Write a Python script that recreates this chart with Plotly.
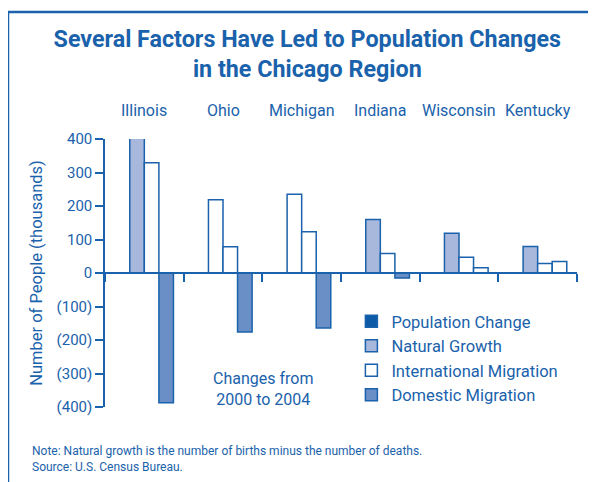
import plotly.graph_objects as go

states = ["Illinois", "Ohio", "Michigan", "Indiana", "Wisconsin", "Kentucky"]
# the source draws no Population Change bars, the slot stays empty
population_change = [None, None, None, None, None, None]
natural_growth = [405, 219, 235, 160, 119, 79]
international_migration = [329, 78, 123, 58, 47, 28]
domestic_migration = [-387, -176, -164, -15, 16, 34]

y_ticks = [-400, -300, -200, -100, 0, 100, 200, 300, 400]
y_ticktext = ["(400)", "(300)", "(200)", "(100)", "0", "100", "200", "300", "400"]

blue = "#1a62ab"
dark = "#0d5aa7"
light = "#a8b8dc"
mid = "#6a8ec6"
font = "Roboto, sans-serif"

ng_colors = [light, "white", "white", light, light, light]
dm_colors = [mid, mid, mid, mid, "white", "white"]

fig = go.Figure()
fig.add_trace(go.Bar(x=states, y=population_change, name="Population Change",
                     marker=dict(color=dark, line=dict(color=blue, width=1.5))))
fig.add_trace(go.Bar(x=states, y=natural_growth, name="Natural Growth",
                     marker=dict(color=ng_colors, line=dict(color=blue, width=1.5))))
fig.add_trace(go.Bar(x=states, y=international_migration, name="International Migration",
                     marker=dict(color="white", line=dict(color=blue, width=1.5))))
fig.add_trace(go.Bar(x=states, y=domestic_migration, name="Domestic Migration",
                     marker=dict(color=dm_colors, line=dict(color=blue, width=1.5))))
fig.update_traces(cliponaxis=False)

# page body has an 8px margin, so the figure is 8px smaller than the window
fig.update_layout(
    width=588, height=474,
    margin=dict(l=97, r=19, t=131, b=75),
    plot_bgcolor="white", paper_bgcolor="white",
    barmode="group", bargap=0.26, bargroupgap=0,
    font=dict(family=font, color=blue, size=16),
    title=dict(text="<b>Several Factors Have Led to Population Changes<br>in the Chicago Region</b>",
               x=0.509, xanchor="center", y=0.918, yanchor="top",
               font=dict(size=23.3, color=blue, family=font)),
    # category axis drawn along the zero line, ticks between the states
    xaxis=dict(type="category", anchor="free", position=0.5, automargin=False,
               showline=True, linecolor=blue, linewidth=1.5, showgrid=False,
               tickson="boundaries", ticks="outside", ticklen=8, tickwidth=1.5,
               tickcolor=blue, showticklabels=False),
    yaxis=dict(range=[-400, 400], tickvals=y_ticks, ticktext=y_ticktext, automargin=False,
               showline=True, linecolor=blue, linewidth=1.5, showgrid=False, zeroline=False,
               ticks="outside", ticklen=8, tickwidth=1.5, tickcolor=blue,
               tickfont=dict(size=15, color=blue),
               title=dict(text="Number of People (thousands)", standoff=10,
                          font=dict(size=16.5, color=blue))),
    legend=dict(x=0.522, y=0.384, xanchor="left", yanchor="top",
                font=dict(size=16.5, color=blue), bgcolor="rgba(0,0,0,0)",
                tracegroupgap=0, itemwidth=30),
    showlegend=True,
)

# state names above the plot
for s in states:
    fig.add_annotation(text=s, x=s, xref="x", yref="paper", y=1 + 28 / 268,
                       yanchor="middle", showarrow=False, font=dict(size=16, color=blue))

fig.add_annotation(text="Changes from<br>2000 to 2004", xref="paper", yref="paper",
                   x=158 / 472, y=18 / 268, xanchor="center", yanchor="middle",
                   showarrow=False, font=dict(size=16, color=blue))
fig.add_annotation(text="Note: Natural growth is the number of births minus the number of deaths.<br>Source: U.S. Census Bureau.",
                   xref="paper", yref="paper", x=-75 / 472, y=-52 / 268,
                   xanchor="left", yanchor="middle", align="left", showarrow=False,
                   font=dict(size=12, color=blue))

# blue frame round the figure
fig.add_shape(type="rect", xref="paper", yref="paper",
              x0=-97 / 472, x1=540 / 472,
              y0=-113 / 268, y1=395 / 268,
              line=dict(color=blue, width=2.5))

fig.write_html("out.html")
